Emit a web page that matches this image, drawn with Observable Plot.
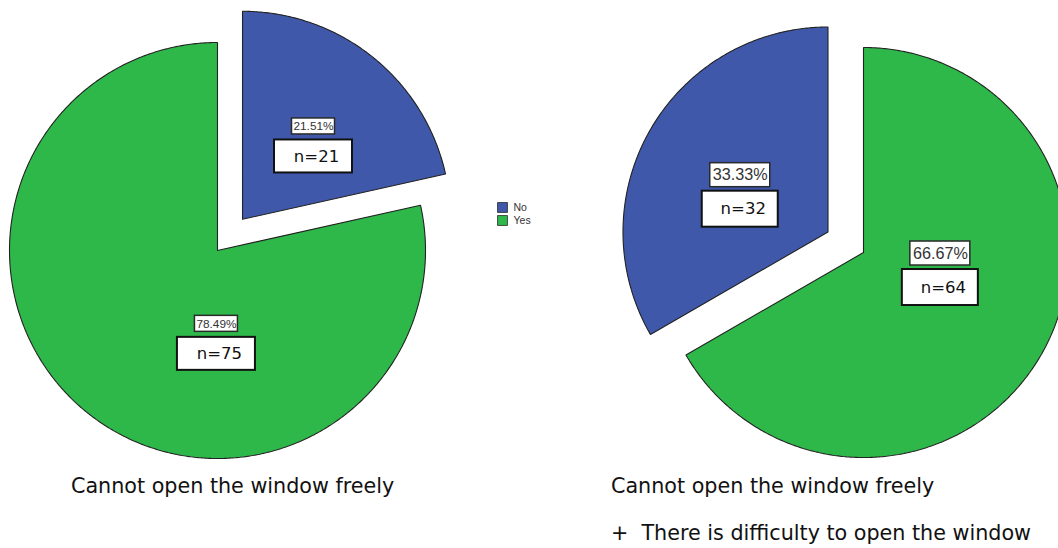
<!DOCTYPE html>
<html><head><meta charset="utf-8">
<script src="https://cdn.jsdelivr.net/npm/d3@7"></script>
<script src="https://cdn.jsdelivr.net/npm/@observablehq/plot@0.6"></script>
<style>
html,body{margin:0;padding:0;background:#fff}
#wrap{position:relative;width:1058px;height:548px;overflow:hidden;font-family:"DejaVu Sans",sans-serif}
#chart{position:absolute;left:0;top:0}
.cap{position:absolute;font-size:20.7px;line-height:20.7px;color:#111;white-space:pre}
</style></head><body>
<div id="wrap"><div id="chart"></div>
<div class="cap" id="capL" style="left:71px;top:475.5px"></div>
<div class="cap" id="capR1" style="left:611px;top:475.5px"></div>
<div class="cap" id="capR2" style="left:611px;top:522.5px"></div>
</div>
<script>
// ---- data ----
const categories = ["No", "Yes"];
const colors = ["#3F58AA", "#2EB84A"];
const leftPercents = [21.51, 78.49];
const leftCounts = [21, 75];
const rightPercents = [33.33, 66.67];
const rightCounts = [32, 64];
const leftCaption = "Cannot open the window freely";
const rightCaption = ["Cannot open the window freely", "+  There is difficulty to open the window"];

// ---- layout (pixels) ----
const W = 1058, H = 470;
const pies = [
  {percents: leftPercents, counts: leftCounts, cx: 217, cy: 250, r: 208,
   order: ["No", "Yes"], explode: {No: 40, Yes: 0},
   pctFont: 11.8, pctBox: [43, 16], nFont: 16.5, nBox: [78, 33], gap: [14, 16],
   labels: {No: [42, 0.51], Yes: [180.7, 0.42]}},
  {percents: rightPercents, counts: rightCounts, cx: 863, cy: 252, r: 205,
   order: ["Yes", "No"], explode: {No: 41, Yes: 0},
   pctFont: 16.2, pctBox: [60, 24], nFont: 16.5, nBox: [76, 36], gap: [17, 17],
   labels: {No: [294.4, 0.47], Yes: [103.2, 0.385]}}
];

const rad = d => d * Math.PI / 180;
const dir = a => [Math.sin(rad(a)), -Math.cos(rad(a))];

const marks = [];
const pctBoxes = [], nBoxes = [], pctTexts = [], nTexts = [];

for (const [pi, p] of pies.entries()) {
  let start = 0;
  for (const cat of p.order) {
    const i = categories.indexOf(cat);
    const span = p.percents[i] / 100 * 360;
    const end = start + span;
    const mid = (start + end) / 2;
    const [ex, ey] = dir(mid);
    const ax = p.cx + ex * p.explode[cat], ay = p.cy + ey * p.explode[cat];
    const pts = [{x: ax, y: ay}];
    const steps = Math.ceil(span * 2);
    for (let k = 0; k <= steps; k++) {
      const a = start + span * k / steps;
      const [dx, dy] = dir(a);
      pts.push({x: ax + p.r * dx, y: ay + p.r * dy});
    }
    pts.push({x: ax, y: ay});
    marks.push(Plot.line(pts, {x: "x", y: "y", fill: colors[i], stroke: "#222", strokeWidth: 1.1, strokeLinejoin: "miter", curve: "linear"}));

    // label anchor
    const [la, lf] = p.labels[cat];
    const [lx, ly] = dir(la);
    const X = ax + lx * lf * p.r, Y = ay + ly * lf * p.r;
    const pcy = Y - p.gap[0], ncy = Y + p.gap[1];
    pctBoxes.push({x1: X - p.pctBox[0] / 2, x2: X + p.pctBox[0] / 2, y1: pcy - p.pctBox[1] / 2, y2: pcy + p.pctBox[1] / 2});
    nBoxes.push({x1: X - p.nBox[0] / 2, x2: X + p.nBox[0] / 2, y1: ncy - p.nBox[1] / 2, y2: ncy + p.nBox[1] / 2});
    pctTexts.push({x: X, y: pcy, t: p.percents[i].toFixed(2) + "%", fs: p.pctFont});
    nTexts.push({x: X + 3, y: ncy, t: "n=" + p.counts[i], fs: p.nFont});
    start = end;
  }
}

marks.push(Plot.rect(pctBoxes, {x1: "x1", x2: "x2", y1: "y1", y2: "y2", fill: "white", stroke: "#2a2a2a", strokeWidth: 1.5}));
marks.push(Plot.rect(nBoxes, {x1: "x1", x2: "x2", y1: "y1", y2: "y2", fill: "white", stroke: "#111", strokeWidth: 2}));
for (const d of pctTexts) {
  marks.push(Plot.text([d], {x: "x", y: "y", text: "t", fontSize: d.fs, fontFamily: "Liberation Sans, Arial, sans-serif", fill: "#333", textAnchor: "middle", lineAnchor: "middle"}));
}
for (const d of nTexts) {
  marks.push(Plot.text([d], {x: "x", y: "y", text: "t", fontSize: d.fs, fontFamily: "DejaVu Sans, sans-serif", fill: "#111", textAnchor: "middle", lineAnchor: "middle"}));
}

// legend
const legend = categories.map((c, i) => ({c, i, x: 502, y: 207 + i * 13}));
marks.push(Plot.dot(legend, {x: "x", y: "y", symbol: "square", r: 5.6, fill: d => colors[d.i], stroke: "#2a2a2a", strokeWidth: 0.8}));
marks.push(Plot.text(legend, {x: d => d.x + 11, y: "y", text: "c", textAnchor: "start", fontSize: 10.5, fontFamily: "Liberation Sans, Arial, sans-serif", fill: "#333"}));

const chart = Plot.plot({
  width: W, height: H, margin: 0,
  x: {type: "linear", domain: [0, W], range: [0, W], axis: null},
  y: {type: "linear", domain: [0, H], range: [0, H], axis: null},
  marks
});
document.getElementById("chart").appendChild(chart);
document.getElementById("capL").textContent = leftCaption;
document.getElementById("capR1").textContent = rightCaption[0];
document.getElementById("capR2").textContent = rightCaption[1];
</script>
</body></html>
